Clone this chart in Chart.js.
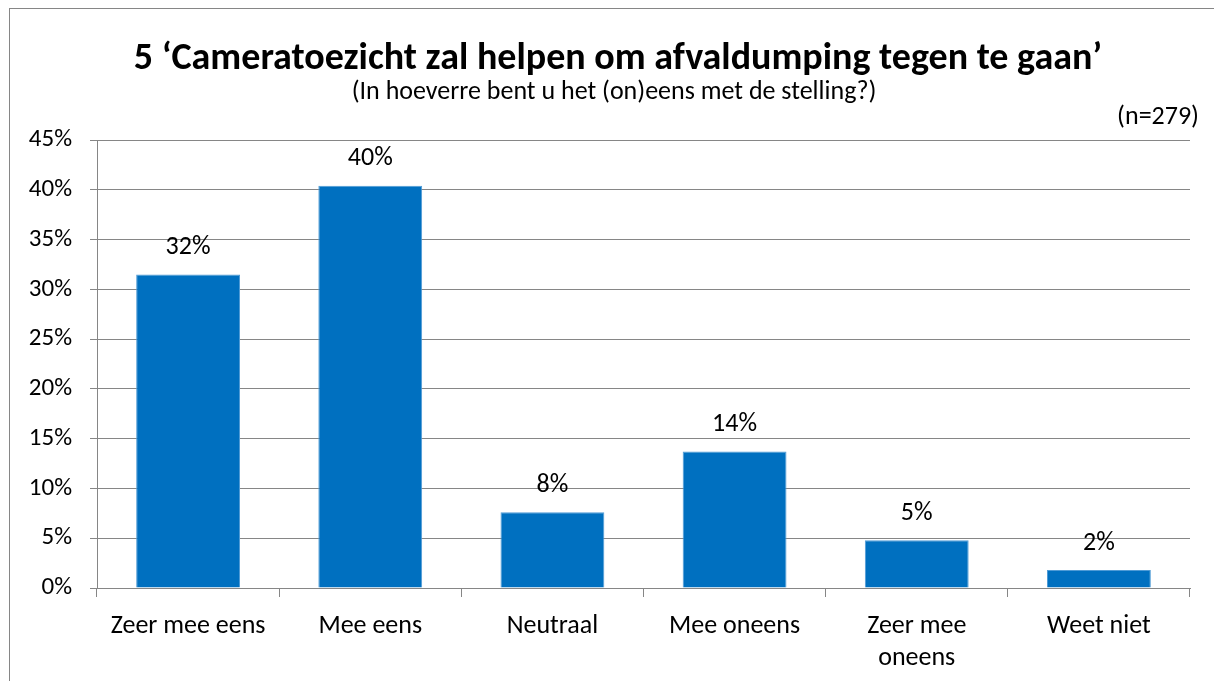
<!DOCTYPE html>
<html>
<head>
<meta charset="utf-8">
<script src="https://cdn.jsdelivr.net/npm/chart.js@4/dist/chart.umd.min.js"></script>
<style>
  body { margin: 0; background: #fff; }
  #wrap { position: relative; width: 1214px; height: 681px; }
  #frame { position: absolute; left: 9px; top: 8px; width: 1220px; height: 700px; border: 1px solid #868686; box-sizing: border-box; }
  canvas { position: absolute; left: 0; top: 0; }
</style>
</head>
<body>
<div id="wrap">
  <div id="frame"></div>
  <canvas id="chart" width="1214" height="681"></canvas>
</div>
<script>
const FONT = "Carlito, Calibri, Lato, 'Open Sans', sans-serif";

const categories = ['Zeer mee eens', 'Mee eens', 'Neutraal', 'Mee oneens', ['Zeer mee', 'oneens'], 'Weet niet'];
const percentages = [31.5, 40.4, 7.6, 13.7, 4.8, 1.8];
const titleText = '5 \u2018Cameratoezicht zal helpen om afvaldumping tegen te gaan\u2019';
const subtitleText = '(In hoeverre bent u het (on)eens met de stelling?)';
const sampleText = '(n=279)';

// headings + data labels drawn on top of the chart
const textPlugin = {
  id: 'texts',
  afterDraw(chart) {
    const ctx = chart.ctx;
    ctx.save();
    ctx.fillStyle = '#000';
    ctx.textBaseline = 'middle';
    ctx.textAlign = 'center';
    ctx.font = 'bold 38px ' + FONT;
    ctx.fillText(titleText, 618, 59);
    ctx.font = '26px ' + FONT;
    ctx.fillText(subtitleText, 614, 92);
    ctx.textAlign = 'right';
    ctx.fillText(sampleText, 1199, 117);

    ctx.textAlign = 'center';
    const meta = chart.getDatasetMeta(0);
    meta.data.forEach((bar, i) => {
      ctx.fillText(Math.round(percentages[i]) + '%', bar.x, bar.y - 27);
    });
    ctx.restore();
  }
};

new Chart(document.getElementById('chart'), {
  type: 'bar',
  data: {
    labels: categories,
    datasets: [{
      data: percentages,
      backgroundColor: '#0070C0',
      borderColor: '#4f9bd6',
      borderWidth: 1,
      barPercentage: 0.57,
      categoryPercentage: 1
    }]
  },
  options: {
    responsive: false,
    animation: false,
    layout: { padding: { top: 140, right: 24, left: 0, bottom: 0 } },
    plugins: {
      legend: { display: false },
      tooltip: { enabled: false }
    },
    scales: {
      x: {
        grid: {
          offset: true,
          drawOnChartArea: false,
          drawTicks: true,
          tickLength: 9,
          color: '#868686'
        },
        border: { color: '#868686', width: 1 },
        ticks: {
          color: '#000',
          font: { family: FONT, size: 26, lineHeight: 1.22 },
          padding: 14,
          maxRotation: 0,
          autoSkip: false
        },
        afterFit(scale) { scale.height = 681 - 588; }
      },
      y: {
        min: 0,
        max: 45,
        grid: {
          color: '#868686',
          tickLength: 7
        },
        border: { color: '#868686', width: 1 },
        ticks: {
          stepSize: 5,
          color: '#000',
          font: { family: FONT, size: 25 },
          padding: 18,
          callback: v => v + '%'
        },
        afterFit(scale) { scale.width = 97; }
      }
    }
  },
  plugins: [textPlugin]
});
</script>
</body>
</html>
